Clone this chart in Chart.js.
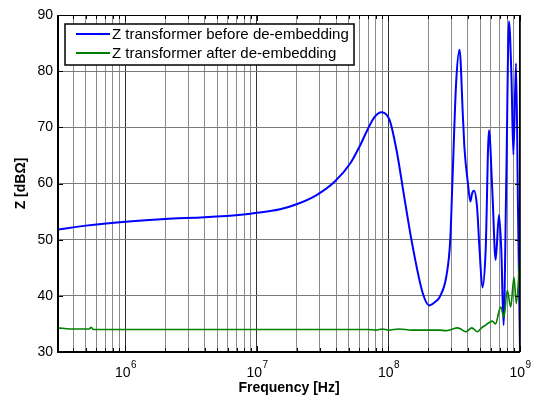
<!DOCTYPE html>
<html>
<head>
<meta charset="utf-8">
<script src="https://cdn.jsdelivr.net/npm/chart.js@4"></script>
<style>
  html, body { margin: 0; padding: 0; background: #fff; }
  canvas { display: block; }
</style>
</head>
<body>
<canvas id="zChart" width="536" height="396"></canvas>
<script>
// ===== DATA =====
const seriesNames = ["Z transformer before de-embedding", "Z transformer after de-embedding"];

const freqBefore = [3.07e5, 5.0e5, 1e6, 2e6, 4e6, 7.9e6, 1e7, 1.5e7, 2.0e7, 2.82e7, 3.89e7, 5.13e7, 6.03e7,
  7.0e7, 7.87e7, 8.85e7, 1.02e8, 1.15e8, 1.32e8, 1.51e8, 1.82e8, 2.04e8, 2.29e8, 2.45e8, 2.75e8,
  2.95e8, 3.06e8, 3.27e8, 3.47e8, 3.68e8, 3.79e8, 4.02e8, 4.19e8, 4.32e8, 4.47e8, 4.71e8, 4.93e8,
  5.18e8, 5.48e8, 5.81e8, 6.17e8, 6.53e8, 6.92e8, 7.21e8, 7.5e8, 7.87e8, 8.24e8, 8.61e8, 8.91e8,
  9.33e8, 9.66e8, 1e9];
const zBefore = [51.8, 52.5, 53.2, 53.7, 54.0, 54.5, 54.8, 55.4, 56.3, 57.9, 60.3, 63.6, 66.6,
  69.8, 71.9, 72.7, 71.3, 66.0, 57.5, 49.4, 40.5, 38.3, 39.0, 39.8, 43.4,
  50.0, 60.0, 78.0, 83.8, 72.0, 66.0, 60.0, 56.8, 58.2, 58.7, 55.9, 48.1,
  41.5, 48.1, 69.5, 58.3, 46.4, 54.4, 48.1, 34.8, 61.0, 88.9, 79.0, 65.1,
  81.4, 55.0, 30.3];

const freqAfter = [3.07e5, 3.8e5, 5.3e5, 5.5e5, 5.7e5, 1e6, 1e7, 7e7, 8e7, 9e7, 1e8, 1.2e8, 1.5e8, 2e8,
  2.45e8, 2.75e8, 3.0e8, 3.34e8, 3.6e8, 3.87e8, 4.3e8, 4.74e8, 5.1e8, 5.48e8, 5.8e8, 6.17e8, 6.5e8,
  7.13e8, 7.55e8, 8.0e8, 8.5e8, 9.0e8, 9.38e8, 1e9];
const zAfter = [34.3, 34.1, 34.1, 34.4, 34.0, 34.0, 34.0, 34.0, 33.9, 34.1, 33.9, 34.1, 33.9, 33.9,
  33.9, 33.8, 34.0, 34.3, 34.0, 33.6, 34.3, 33.6, 34.3, 34.8, 35.2, 35.5, 35.0,
  38.0, 36.2, 41.0, 38.0, 43.3, 38.6, 47.5];

const xMin = 3.07e5, xMax = 1e9;
const yTicks = [30, 40, 50, 60, 70, 80, 90];
const xDecades = [6, 7, 8, 9];

// minor + major x ticks: 1..9 x 10^n
const xTickVals = [];
for (let e = 5; e <= 9; e++) {
  for (let m = 1; m <= 9; m++) {
    const v = m * Math.pow(10, e);
    if (v >= xMin && v <= xMax * 1.0001) xTickVals.push(v);
  }
}
const isDecade = v => Math.abs(Math.log10(v) - Math.round(Math.log10(v))) < 1e-9;

const toPoints = (xs, ys) => xs.map((x, i) => ({ x, y: ys[i] }));

// ===== DRAWING EXTRAS (frame, ticks, labels, legend) =====
const extras = {
  id: "extras",
  afterDraw(chart) {
    const { ctx, chartArea: a, scales: { x, y } } = chart;
    ctx.save();

    // inward tick marks
    ctx.strokeStyle = "#000";
    ctx.lineWidth = 1;
    ctx.beginPath();
    xTickVals.forEach(v => {
      const px = Math.round(x.getPixelForValue(v)) + 0.5;
      const len = isDecade(v) ? 6 : 4;
      ctx.moveTo(px, a.bottom); ctx.lineTo(px, a.bottom - len);
      ctx.moveTo(px, a.top); ctx.lineTo(px, a.top + len);
    });
    yTicks.forEach(v => {
      const py = Math.round(y.getPixelForValue(v)) + 0.5;
      ctx.moveTo(a.left, py); ctx.lineTo(a.left + 5, py);
      ctx.moveTo(a.right, py); ctx.lineTo(a.right - 5, py);
    });
    ctx.stroke();

    // box
    ctx.lineWidth = 1;
    ctx.beginPath();
    ctx.moveTo(a.left, a.top + 0.5); ctx.lineTo(a.right, a.top + 0.5);
    ctx.moveTo(a.right - 0.5, a.top); ctx.lineTo(a.right - 0.5, a.bottom);
    ctx.stroke();
    ctx.lineWidth = 2;
    ctx.beginPath();
    ctx.moveTo(a.left, a.top); ctx.lineTo(a.left, a.bottom + 1);
    ctx.moveTo(a.left - 1, a.bottom); ctx.lineTo(a.right, a.bottom);
    ctx.stroke();

    // x tick labels 10^n
    ctx.fillStyle = "#000";
    ctx.textBaseline = "alphabetic";
    xDecades.forEach(e => {
      const px = x.getPixelForValue(Math.pow(10, e));
      ctx.font = "14px 'Liberation Sans', Arial, sans-serif";
      const wBase = ctx.measureText("10").width;
      ctx.font = "10px 'Liberation Sans', Arial, sans-serif";
      const wExp = ctx.measureText(String(e)).width;
      const start = px - (wBase + wExp) / 2;
      ctx.textAlign = "left";
      ctx.font = "14px 'Liberation Sans', Arial, sans-serif";
      ctx.fillText("10", start, 377);
      ctx.font = "10px 'Liberation Sans', Arial, sans-serif";
      ctx.fillText(String(e), start + wBase + 0.5, 368);
    });

    // axis titles
    ctx.font = "bold 14px 'Liberation Sans', Arial, sans-serif";
    ctx.textAlign = "center";
    ctx.textBaseline = "middle";
    ctx.fillText("Frequency [Hz]", (a.left + a.right) / 2, 388);
    ctx.save();
    ctx.translate(21, (a.top + a.bottom) / 2);
    ctx.rotate(-Math.PI / 2);
    ctx.fillText("Z [dB\u03A9]", 0, 0);
    ctx.restore();

    // legend
    const lx = 65, ly = 24, lw = 289, lh = 41;
    ctx.fillStyle = "#fff";
    ctx.fillRect(lx, ly, lw, lh);
    ctx.strokeStyle = "#000";
    ctx.lineWidth = 1.5;
    ctx.strokeRect(lx, ly, lw, lh);
    const colors = chart.data.datasets.map(d => d.borderColor);
    const rows = [34, 53];
    ctx.font = "15px 'Liberation Sans', Arial, sans-serif";
    ctx.textAlign = "left";
    ctx.textBaseline = "middle";
    seriesNames.forEach((name, i) => {
      ctx.strokeStyle = colors[i];
      ctx.lineWidth = 2;
      ctx.beginPath();
      ctx.moveTo(76, rows[i]); ctx.lineTo(110, rows[i]);
      ctx.stroke();
      ctx.fillStyle = "#000";
      ctx.fillText(name, 112, rows[i] + 1);
    });

    ctx.restore();
  }
};

new Chart(document.getElementById("zChart"), {
  type: "line",
  data: {
    datasets: [{
      label: seriesNames[0],
      data: toPoints(freqBefore, zBefore),
      borderColor: "#0000ff",
      borderWidth: 2,
      pointRadius: 0,
      cubicInterpolationMode: "monotone",
      order: 2
    }, {
      label: seriesNames[1],
      data: toPoints(freqAfter, zAfter),
      borderColor: "#008000",
      borderWidth: 1.6,
      pointRadius: 0,
      cubicInterpolationMode: "monotone",
      order: 1
    }]
  },
  options: {
    responsive: false,
    animation: false,
    devicePixelRatio: 1,
    layout: { padding: { top: 15, right: 16, left: 0, bottom: 0 } },
    plugins: { legend: { display: false }, tooltip: { enabled: false } },
    scales: {
      x: {
        type: "logarithmic",
        min: xMin,
        max: xMax,
        afterBuildTicks: scale => { scale.ticks = xTickVals.map(v => ({ value: v })); },
        afterFit: scale => { scale.height = 44; },
        ticks: { display: false },
        grid: {
          drawTicks: false,
          color: c => (c.tick && isDecade(c.tick.value)) ? "#333333" : "#8a8a8a",
          lineWidth: 1
        },
        border: { display: false }
      },
      y: {
        min: 30,
        max: 90,
        afterBuildTicks: scale => { scale.ticks = yTicks.map(v => ({ value: v })); },
        afterFit: scale => { scale.width = 58; },
        ticks: {
          padding: 5,
          color: "#000",
          font: { family: "'Liberation Sans', Arial, sans-serif", size: 14 }
        },
        grid: { drawTicks: false, color: "#7a7a7a", lineWidth: 1 },
        border: { display: false }
      }
    }
  },
  plugins: [extras]
});
</script>
</body>
</html>
